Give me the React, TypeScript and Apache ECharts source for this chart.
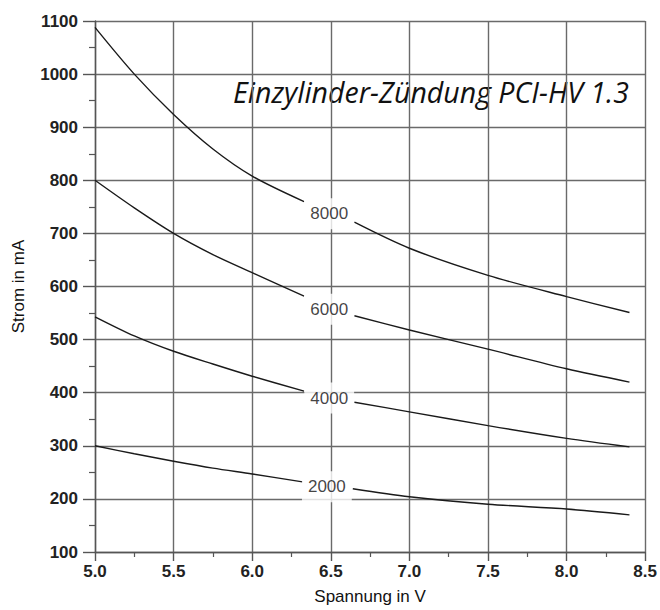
import React, { useEffect, useRef } from "react";
import * as echarts from "echarts";

// Spannung (V) / Strom (mA) for each curve; null marks the gap at the label
const curve8000: (number[] | null)[] = [
  [5.0, 1088], [5.25, 1000], [5.5, 924], [5.75, 859], [6.0, 808], [6.33, 760], null,
  [6.65, 721], [7.0, 672], [7.5, 621], [8.0, 581], [8.4, 551],
];
const curve6000: (number[] | null)[] = [
  [5.0, 800], [5.25, 748], [5.5, 700], [5.75, 660], [6.0, 626], [6.33, 582], null,
  [6.65, 545], [7.0, 518], [7.5, 482], [8.0, 445], [8.4, 420],
];
const curve4000: (number[] | null)[] = [
  [5.0, 543], [5.25, 507], [5.5, 478], [5.75, 454], [6.0, 431], [6.33, 403], null,
  [6.65, 382], [7.0, 364], [7.5, 338], [8.0, 314], [8.4, 298],
];
const curve2000: (number[] | null)[] = [
  [5.0, 300], [5.25, 285], [5.5, 271], [5.75, 258], [6.0, 247], [6.32, 232], null,
  [6.64, 219], [7.0, 204], [7.5, 190], [8.0, 181], [8.4, 170],
];

const labelTexts = ["8000", "6000", "4000", "2000"];
const labelX = [6.49, 6.49, 6.49, 6.475];
const labelY = [737, 557, 390, 223];

const titleText = "Einzylinder-Zündung PCI-HV 1.3";
const xAxisName = "Spannung in V";
const yAxisName = "Strom in mA";

const FONT = "'Liberation Sans', Arial, sans-serif";

export default function App() {
  const ref = useRef<HTMLDivElement>(null);
  useEffect(() => {
    if (!ref.current) return;
    const chart = echarts.init(ref.current, null, { renderer: "svg" });
    const gridColor = "#6a6a6a";
    const lineSeries = (data: (number[] | null)[]) => ({
      type: "line",
      data: data.map((d) => (d ? d : [null, null])),
      smooth: 0.3,
      connectNulls: false,
      showSymbol: false,
      symbol: "none",
      lineStyle: { color: "#1a1a1a", width: 1.4 },
      z: 3,
    });
    chart.setOption({
      animation: false,
      backgroundColor: "#fff",
      grid: { left: 95, right: 13, top: 21, bottom: 53, containLabel: false },
      xAxis: {
        type: "value",
        min: 5,
        max: 8.5,
        interval: 0.5,
        name: xAxisName,
        nameLocation: "middle",
        nameGap: 36,
        nameTextStyle: { fontFamily: FONT, fontSize: 17, color: "#111" },
        axisLine: { show: true, lineStyle: { color: "#555", width: 1.4 } },
        axisTick: { show: true, length: 9, inside: false, lineStyle: { color: "#555", width: 1.4 } },
        minorTick: { show: true, splitNumber: 2, length: 5, lineStyle: { color: "#555", width: 1.2 } },
        splitLine: { show: true, lineStyle: { color: gridColor, width: 1.4 } },
        axisLabel: {
          margin: 11,
          fontFamily: FONT,
          fontSize: 17,
          fontWeight: "bold",
          color: "#222",
          formatter: (v: number) => v.toFixed(1),
        },
      },
      yAxis: {
        type: "value",
        min: 100,
        max: 1100,
        interval: 100,
        name: yAxisName,
        nameLocation: "middle",
        nameRotate: 90,
        nameGap: 68,
        nameTextStyle: { fontFamily: FONT, fontSize: 17, color: "#111" },
        axisLine: { show: true, lineStyle: { color: "#555", width: 1.4 } },
        axisTick: { show: true, length: 12, inside: false, lineStyle: { color: "#555", width: 1.4 } },
        minorTick: { show: true, splitNumber: 2, length: 6, lineStyle: { color: "#555", width: 1.2 } },
        splitLine: { show: true, lineStyle: { color: gridColor, width: 1.4 } },
        axisLabel: {
          margin: 17,
          fontFamily: FONT,
          fontSize: 17,
          fontWeight: "bold",
          color: "#222",
          formatter: (v: number) => String(v),
        },
      },
      series: [
        lineSeries(curve8000),
        lineSeries(curve6000),
        lineSeries(curve4000),
        lineSeries(curve2000),
        {
          type: "scatter",
          symbolSize: 0,
          z: 4,
          data: labelTexts.map((t, i) => ({ value: [labelX[i], labelY[i]], name: t })),
          label: {
            show: true,
            position: "inside",
            formatter: (p: any) => p.name,
            fontFamily: FONT,
            fontSize: 17,
            color: "#111",
            backgroundColor: "#fff",
            padding: [7, 6],
          },
        },
      ],
      graphic: [
        {
          type: "group",
          z: 100,
          children: [
            {
              type: "rect",
              shape: { x: 225, y: 67, width: 412, height: 50 },
              style: { fill: "#fff" },
            },
            {
              type: "text",
              x: 431,
              y: 92,
              style: {
                text: titleText,
                fontFamily: "'Open Sans', sans-serif",
                fontStyle: "italic",
                fontSize: 28.5,
                fill: "#111",
                align: "center",
                verticalAlign: "middle",
              },
            },
          ],
        },
      ],
    });
    return () => chart.dispose();
  }, []);
  return (
    <div
      ref={ref}
      style={{ position: "absolute", left: 0, top: 0, width: 660, height: 610 }}
    />
  );
}
